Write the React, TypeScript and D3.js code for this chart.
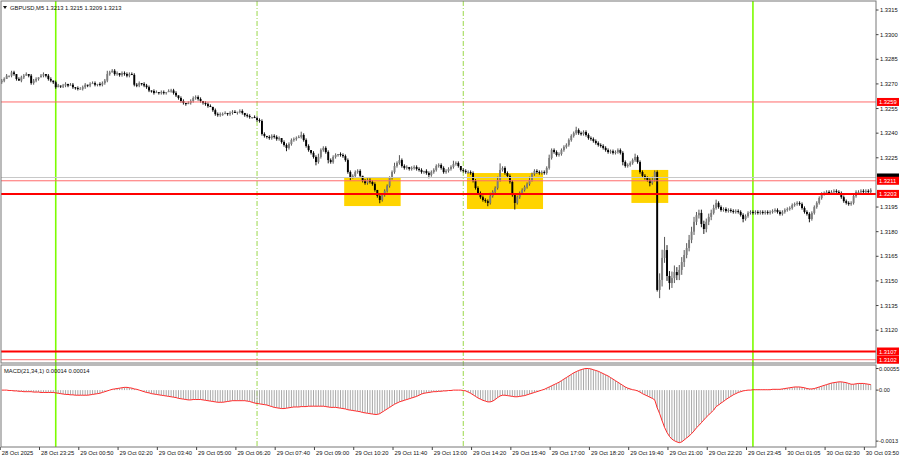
import React from "react";
import * as d3 from "d3";

// GBPUSD M5, close of each bar in pips above 1.3100
const closePips = [
  172, 173, 175, 175, 177, 176, 173, 172, 174, 175,
  176, 175, 170.5, 172, 173, 174, 175, 176, 175, 173,
  172, 171, 168, 169, 168.5, 169, 170, 169, 169.5, 168,
  167.5, 167, 167, 168, 169.5, 169, 170, 170.5, 169.5, 170,
  169.5, 170.5, 172, 176, 177, 178, 176, 176.6, 175.4, 176.6,
  176, 175, 176, 175.5, 169.5, 169, 170.5, 170, 169, 168,
  166, 165.7, 164.5, 165, 164.5, 165, 164.5, 165, 165.7, 166,
  164.5, 163, 161.4, 159.6, 158.4, 157.7, 158.4, 159.6, 161.4, 162,
  160.8, 159.6, 158.4, 157.7, 156.5, 156, 154, 151.6, 151, 151.6,
  151.6, 152.3, 151.6, 152.3, 153, 152.3, 153, 153.5, 152.3, 151,
  150.5, 149.8, 149.8, 149.2, 148, 147.4, 139.5, 138.3, 137.7, 137,
  138.3, 137.7, 136.4, 137, 134.6, 132.8, 131, 133.4, 135.8, 136.4,
  137, 137.7, 138.9, 135.8, 132.2, 129.7, 128, 125.5, 122.4, 125.5,
  129.7, 131, 128.5, 123.6, 122.4, 125.5, 126.7, 127.3, 126.7, 126,
  123.6, 116.3, 113.3, 113.9, 116.3, 117, 114, 111, 109.6, 111.5,
  110.3, 109, 105.4, 101.7, 99.3, 102.3, 104.8, 107.8, 112.7, 116.3,
  120, 121.8, 123.6, 120, 118.8, 119.4, 118.2, 118.8, 119.4, 118.2,
  117.6, 116.3, 117, 115.7, 114.5, 116.3, 117.6, 120, 120.6, 118.8,
  116.3, 117, 118.2, 119.4, 121.2, 121.8, 120, 117.6, 117, 116.3,
  116.3, 115.7, 111, 106.6, 103.5, 101, 99.3, 98.6, 97.5, 101.7,
  104.2, 106.6, 111.5, 117.6, 118.8, 115.7, 113.9, 110.3, 102.3, 97.5,
  101, 103.5, 105.4, 107.2, 109, 111.5, 115, 117, 116.3, 115.7,
  116.3, 115.7, 118.8, 124.9, 129.7, 128.5, 126.7, 127.3, 129.7, 131.6,
  132.8, 135.8, 138.3, 140, 141.9, 140, 139.5, 140.7, 138.9, 137,
  136.4, 135.2, 134, 132.8, 132.2, 131, 129.7, 128.5, 129, 128,
  128.5, 129.7, 128, 122.4, 120, 120.6, 121.8, 123.6, 125.5, 122.4,
  116.3, 114, 112.7, 111.5, 109.6, 111.5, 116.3, 44.5, 50.6, 64,
  68.8, 53, 48.7, 51.7, 55.4, 53.5, 56.7, 61.5, 65.8, 70,
  75, 80, 86, 90, 91.4, 84.7, 81.6, 86, 89, 91.4,
  94.4, 97.5, 95, 93.2, 93.8, 92.6, 93.2, 92.6, 92, 92.6,
  92, 90.2, 87.7, 89.5, 91.4, 92, 91.4, 92, 91.4, 92,
  91.4, 92, 91.4, 92, 92.6, 93.2, 92, 90.8, 92, 93.2,
  93.8, 94.4, 96.2, 96.8, 97.5, 96.8, 94.4, 92, 90.8, 87.7,
  91.4, 95, 97.5, 100.5, 103, 103.5, 104.2, 103.5, 104.2, 104.8,
  104.2, 103.5, 101, 98.6, 97.5, 96.8, 97.5, 101.7, 104.2, 104.2,
  104.8, 104.2, 104.8, 104.2, 105.4,
];
const firstOpenPips = 171;

// wick length beyond the body, pips
const upperWick = [
  1, 1, 1, 0, 1, 1, 0, 1, 1, 1,
  1, 0, 1, 1, 1, 0, 1, 1, 0, 1,
  1, 0, 1, 1, 0, 1, 1, 0, 1, 1,
  0, 1, 1, 1, 1, 0, 1, 1, 1, 0,
  1, 1, 1, 2, 1, 1, 1, 1, 0, 1,
  1, 1, 1, 1, 1, 1, 1, 0, 1, 1,
  1, 0, 1, 1, 0, 1, 1, 0, 1, 1,
  1, 1, 0, 1, 1, 0, 1, 1, 1, 1,
  1, 1, 0, 1, 1, 1, 0, 1, 1, 1,
  1, 1, 0, 1, 1, 1, 0, 1, 1, 0,
  1, 1, 0, 1, 1, 1, 1, 1, 0, 1,
  1, 1, 1, 1, 0, 1, 1, 1, 1, 1,
  1, 1, 2, 1, 1, 1, 0, 1, 1, 2,
  1, 1, 1, 1, 1, 1, 1, 0, 1, 1,
  1, 1, 1, 1, 1, 1, 1, 0, 1, 1,
  1, 1, 1, 0, 1, 1, 1, 1, 1, 1,
  2, 1, 3, 1, 1, 1, 0, 1, 1, 1,
  1, 1, 0, 1, 1, 1, 1, 1, 1, 1,
  1, 1, 1, 1, 2, 1, 1, 0, 1, 1,
  1, 1, 1, 1, 1, 1, 1, 1, 1, 2,
  1, 1, 2, 4, 1, 1, 1, 1, 1, 1,
  1, 1, 1, 1, 1, 2, 1, 1, 1, 1,
  1, 1, 1, 2, 1, 1, 1, 1, 1, 1,
  1, 1, 1, 1, 2, 1, 1, 1, 1, 1,
  1, 1, 1, 1, 1, 1, 1, 1, 1, 1,
  1, 1, 1, 1, 1, 1, 1, 1, 2, 1,
  1, 1, 1, 1, 1, 2, 1, 1, 4, 5,
  8, 3, 3, 4, 4, 3, 3, 3, 3, 3,
  3, 3, 3, 2, 2, 2, 2, 2, 2, 2,
  2, 2, 1, 1, 1, 1, 1, 1, 1, 1,
  1, 1, 1, 1, 1, 1, 1, 1, 1, 1,
  1, 1, 1, 1, 1, 1, 1, 1, 1, 1,
  1, 1, 1, 1, 1, 1, 1, 1, 1, 1,
  1, 1, 1, 1, 1, 1, 1, 1, 1, 1,
  1, 1, 1, 1, 1, 1, 1, 1, 1, 1,
  1, 1, 1, 1, 1,
];
const lowerWick = [
  1, 1, 0, 1, 1, 1, 1, 0, 1, 1,
  0, 1, 1, 1, 1, 1, 0, 1, 1, 1,
  1, 1, 1, 0, 1, 1, 1, 1, 0, 1,
  1, 1, 0, 1, 1, 1, 1, 0, 1, 1,
  1, 1, 1, 1, 1, 0, 1, 1, 1, 1,
  1, 1, 1, 0, 1, 1, 1, 1, 1, 1,
  1, 1, 1, 0, 1, 1, 1, 1, 0, 1,
  1, 1, 1, 1, 1, 1, 0, 1, 1, 1,
  1, 1, 1, 1, 1, 0, 1, 1, 1, 1,
  1, 0, 1, 1, 1, 0, 1, 1, 1, 1,
  1, 1, 1, 0, 1, 1, 1, 1, 1, 1,
  1, 1, 1, 1, 1, 1, 2, 1, 1, 1,
  1, 0, 1, 1, 1, 1, 1, 1, 2, 1,
  1, 1, 1, 2, 1, 1, 1, 1, 1, 1,
  1, 1, 2, 1, 1, 1, 1, 1, 1, 1,
  1, 1, 1, 1, 2, 1, 1, 1, 1, 1,
  1, 1, 1, 1, 1, 1, 1, 1, 1, 1,
  1, 1, 1, 1, 2, 1, 1, 1, 1, 1,
  1, 1, 1, 1, 1, 1, 1, 1, 1, 1,
  1, 1, 1, 1, 1, 1, 1, 1, 2, 1,
  1, 1, 1, 1, 1, 1, 1, 1, 1, 4,
  1, 1, 1, 1, 1, 1, 1, 1, 1, 1,
  1, 1, 1, 1, 1, 1, 1, 1, 1, 1,
  1, 1, 1, 1, 1, 1, 1, 1, 1, 1,
  1, 1, 1, 1, 1, 1, 1, 1, 1, 1,
  1, 1, 1, 2, 1, 1, 1, 1, 1, 1,
  1, 1, 1, 1, 2, 1, 1, 1, 5, 4,
  3, 3, 4, 3, 3, 3, 3, 3, 3, 2,
  2, 2, 2, 2, 2, 2, 3, 2, 2, 2,
  1, 1, 1, 1, 1, 1, 1, 1, 1, 1,
  1, 1, 2, 1, 1, 1, 1, 1, 1, 1,
  1, 1, 1, 1, 1, 1, 1, 1, 1, 1,
  1, 1, 1, 1, 1, 1, 1, 1, 1, 2,
  1, 1, 1, 1, 1, 1, 1, 1, 1, 1,
  1, 1, 1, 1, 1, 1, 1, 1, 1, 1,
  1, 1, 1, 1, 1,
];

// MACD(21,34,1) main value per bar, in 0.00001
const macdPts = [
  0, 0, 0, -1, -1, -2, -2, -3, -3, -4,
  -4, -4, -4, -5, -5, -5, -6, -6, -6, -6,
  -6, -6, -7, -8, -9, -10, -11, -11, -12, -12,
  -13, -13, -13, -13, -13, -13, -12, -11, -10, -9,
  -8, -6, -4, -2, 0, 2, 3, 4, 5, 6,
  7, 7, 6, 5, 3, 2, 0, -2, -4, -6,
  -7, -9, -10, -11, -12, -13, -14, -15, -16, -17,
  -18, -19, -21, -22, -23, -24, -25, -25, -24, -24,
  -24, -24, -25, -26, -27, -28, -29, -30, -31, -31,
  -31, -30, -29, -28, -27, -27, -27, -27, -27, -27,
  -28, -29, -31, -33, -34, -35, -36, -37, -38, -40,
  -42, -44, -45, -46, -47, -47, -46, -45, -44, -43,
  -43, -43, -42, -42, -42, -41, -41, -41, -41, -41,
  -41, -41, -42, -43, -44, -44, -44, -45, -46, -47,
  -48, -50, -51, -52, -53, -54, -55, -57, -58, -59,
  -60, -61, -62, -62, -60, -56, -52, -48, -44, -40,
  -36, -33, -30, -28, -26, -24, -22, -20, -18, -16,
  -13, -10, -8, -7, -6, -5, -4, -4, -3, -3,
  -2, -2, -1, -1, 0, 0, 0, 0, -1, -2,
  -5, -8, -12, -16, -20, -23, -26, -28, -30, -30,
  -28, -24, -19, -15, -13, -13, -14, -15, -16, -17,
  -17, -16, -15, -14, -12, -10, -8, -6, -4, -2,
  0, 2, 5, 8, 11, 14, 17, 20, 24, 28,
  32, 36, 40, 44, 47, 50, 52, 54, 55, 55,
  54, 52, 50, 48, 45, 42, 39, 36, 32, 28,
  24, 20, 16, 12, 8, 5, 3, 1, 0, -2,
  -5, -9, -12, -15, -18, -21, -25, -45, -60, -78,
  -95, -108, -118, -125, -129, -132, -134, -132, -127, -122,
  -117, -111, -104, -96, -90, -83, -76, -69, -63, -57,
  -51, -42, -38, -33, -29, -24, -20, -16, -12, -9,
  -6, -4, -2, -1, 0, 0, 1, 1, 1, 1,
  1, 1, 1, 1, 2, 2, 2, 2, 3, 4,
  5, 6, 7, 8, 8, 8, 7, 6, 4, 3,
  3, 4, 6, 8, 10, 12, 14, 16, 18, 19,
  20, 21, 21, 20, 19, 17, 15, 15, 16, 17,
  17, 17, 16, 15, 14,
];

// one time label every 16 bars
const timeLabels = [
  "28 Oct 2025", "28 Oct 23:25", "29 Oct 00:50", "29 Oct 02:20", "29 Oct 03:40",
  "29 Oct 05:00", "29 Oct 06:20", "29 Oct 07:40", "29 Oct 09:00", "29 Oct 10:20",
  "29 Oct 11:40", "29 Oct 13:00", "29 Oct 14:20", "29 Oct 15:40", "29 Oct 17:00",
  "29 Oct 18:20", "29 Oct 19:40", "29 Oct 21:00", "29 Oct 22:20", "29 Oct 23:45",
  "30 Oct 01:05", "30 Oct 02:30", "30 Oct 03:50",
];
// labelled price ticks (1.3210 and 1.3105 sit under the price tags)
const priceTicks = [
  1.3315, 1.33, 1.3285, 1.327, 1.3255, 1.324, 1.3225, 1.3195, 1.318,
  1.3165, 1.315, 1.3135, 1.312,
];
const macdTicks = [0.00055, 0, -0.0013];
const macdTickLabels = ["0.00055", "0.00", "-0.0013"];

const thinLevels = [1.3259, 1.3211, 1.3102];
const thickLevels = [1.3203, 1.3107];
const bidPrice = 1.3213;

const dayBreakBars = [22, 306];
const sessionBars = [104, 188];

const zoneStartBar = [140, 190, 257];
const zoneEndBar = [162, 220, 271];
const zoneHigh = [1.32133, 1.32157, 1.32176];
const zoneLow = [1.31956, 1.31938, 1.31975];

const header = "GBPUSD,M5  1.3213 1.3215 1.3209 1.3213";
const macdHeader = "MACD(21,34,1) 0.00014 0.00014";

const toPrice = (p: number) => 1.31 + p / 10000;

export default function App() {
  const W = 900;
  const H = 460;
  const left = 1;
  const right = 876;
  const mainTop = 1;
  const mainBottom = 363;
  const subTop = 365;
  const subBottom = 447;
  const N = closePips.length;

  const x = d3.scaleBand<number>().domain(d3.range(N)).range([0.5, 872]);
  const cx = (i: number) => (x(i) ?? 0) + x.bandwidth() / 2;
  const y = d3.scaleLinear().domain([1.31, 1.33205]).range([mainBottom, mainTop]);
  const ym = d3.scaleLinear().domain([-0.00145, 0.00064]).range([subBottom, subTop]);

  const candles = closePips.map((c, i) => {
    const o = i === 0 ? firstOpenPips : closePips[i - 1];
    return {
      o: toPrice(o),
      c: toPrice(c),
      h: toPrice(Math.max(o, c) + upperWick[i]),
      l: toPrice(Math.min(o, c) - lowerWick[i]),
    };
  });

  const macdLine = d3
    .line<number>()
    .x((_, i) => cx(i))
    .y((v) => ym(v / 100000));

  const font = "'Liberation Sans', Arial, sans-serif";
  const fs = 5.8;
  const bodyW = 1.9;
  const txt = "#111";

  return (
    <svg
      width={W}
      height={H}
      style={{ position: "absolute", left: 0, top: 0, background: "#fff" }}
      fontFamily={font}
    >
      <defs>
        <clipPath id="mainClip">
          <rect x={left} y={mainTop} width={right - left} height={mainBottom - mainTop} />
        </clipPath>
        <clipPath id="subClip">
          <rect x={left} y={subTop} width={right - left} height={subBottom - subTop} />
        </clipPath>
      </defs>
      <rect x={0} y={0} width={W} height={H} fill="#fff" />

      {/* supply/demand zones */}
      <g clipPath="url(#mainClip)">
        {zoneStartBar.map((s, k) => (
          <rect
            key={`z${k}`}
            x={x(s)}
            y={y(zoneHigh[k])}
            width={(x(zoneEndBar[k]) ?? 0) + x.bandwidth() - (x(s) ?? 0)}
            height={y(zoneLow[k]) - y(zoneHigh[k])}
            fill="#ffd400"
          />
        ))}
      </g>

      {/* vertical separators */}
      {dayBreakBars.map((b) => (
        <line key={`d${b}`} x1={cx(b)} x2={cx(b)} y1={mainTop} y2={subBottom} stroke="#7cfc00" strokeWidth={1.6} />
      ))}
      {sessionBars.map((b) => (
        <line
          key={`s${b}`}
          x1={cx(b)}
          x2={cx(b)}
          y1={mainTop}
          y2={subBottom}
          stroke="#9ad84a"
          strokeWidth={1}
          strokeDasharray="5,2,1,2"
        />
      ))}

      {/* candles */}
      <g clipPath="url(#mainClip)">
        {candles.map((d, i) => {
          const bull = d.c >= d.o;
          const top = y(Math.max(d.o, d.c));
          const h = Math.max(1, Math.abs(y(d.o) - y(d.c)));
          return (
            <g key={i}>
              <line x1={cx(i)} x2={cx(i)} y1={y(d.h)} y2={y(d.l)} stroke={bull ? "#444" : "#000"} strokeWidth={0.9} />
              <rect x={cx(i) - bodyW / 2} y={top} width={bodyW} height={h} fill={bull ? "#7c7c7c" : "#000"} />
            </g>
          );
        })}
      </g>

      {/* horizontal levels */}
      <line x1={left} x2={right} y1={y(bidPrice)} y2={y(bidPrice)} stroke="#c8c8c8" strokeWidth={1} />
      {thinLevels.map((p) => (
        <line key={`t${p}`} x1={left} x2={right} y1={y(p)} y2={y(p)} stroke="#ff6b6b" strokeWidth={1} />
      ))}
      {thickLevels.map((p) => (
        <line key={`k${p}`} x1={left} x2={right} y1={y(p)} y2={y(p)} stroke="#ff0000" strokeWidth={2} />
      ))}

      {/* MACD histogram and line */}
      <g clipPath="url(#subClip)">
        {macdPts.map((v, i) => (
          <line key={`m${i}`} x1={cx(i)} x2={cx(i)} y1={ym(0)} y2={ym(v / 100000)} stroke="#a8a8a8" strokeWidth={1} />
        ))}
        <path d={macdLine(macdPts) ?? ""} fill="none" stroke="#ff2a2a" strokeWidth={1} />
      </g>

      {/* frames */}
      <rect x={left} y={mainTop} width={right - left} height={mainBottom - mainTop} fill="none" stroke="#777" strokeWidth={1} />
      <rect x={left} y={subTop} width={right - left} height={subBottom - subTop} fill="none" stroke="#777" strokeWidth={1} />

      {/* headers */}
      <path d="M3,6 L7,6 L5,9 Z" fill={txt} />
      <text x={10} y={10} fontSize={fs} fill={txt}>{header}</text>
      <text x={4} y={373} fontSize={fs} fill={txt}>{macdHeader}</text>

      {/* price axis */}
      {priceTicks.map((p) => (
        <g key={`p${p}`}>
          <line x1={right} x2={right + 2.5} y1={y(p)} y2={y(p)} stroke="#444" />
          <text x={right + 4} y={y(p)} dy="0.35em" fontSize={fs} fill={txt}>{p.toFixed(4)}</text>
        </g>
      ))}
      {macdTicks.map((v, k) => (
        <g key={`mt${k}`}>
          <line x1={right} x2={right + 2.5} y1={ym(v)} y2={ym(v)} stroke="#444" />
          <text x={right + 3} y={ym(v)} dy="0.35em" fontSize={fs * 0.97} fill={txt}>{macdTickLabels[k]}</text>
        </g>
      ))}

      {/* price tags: the bid tag peeks out above the 1.3211 tag */}
      <rect x={right + 1} y={y(bidPrice) - 4} width={22} height={8} fill="#000" />
      {[...thinLevels, ...thickLevels].map((p) => (
        <g key={`tag${p}`}>
          <rect x={right + 1} y={y(p) - 4} width={22} height={8} fill="#f00" />
          <text x={right + 3} y={y(p)} dy="0.35em" fontSize={fs} fill="#fff">{p.toFixed(4)}</text>
        </g>
      ))}

      {/* time axis */}
      {timeLabels.map((t, k) => {
        const xi = cx(k * 16);
        return (
          <g key={`tl${k}`}>
            <line x1={xi - 1.5} x2={xi - 1.5} y1={subBottom} y2={subBottom + 3} stroke="#444" />
            <text x={xi} y={455} fontSize={fs} fill={txt}>{t}</text>
          </g>
        );
      })}
    </svg>
  );
}
